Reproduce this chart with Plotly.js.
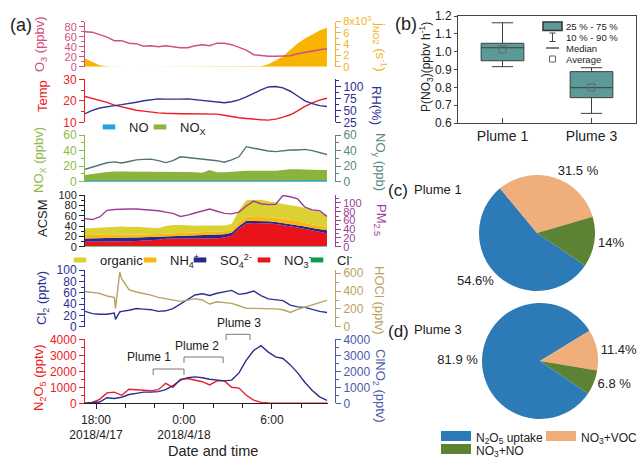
<!DOCTYPE html>
<html><head><meta charset="utf-8">
<script src="https://cdn.plot.ly/plotly-3.0.1.min.js"></script>
<style>html,body{margin:0;padding:0;background:#fff;}#chart{width:639px;height:458px;}</style>
</head><body><div id="chart"></div>
<script>
// ---------------- data ----------------
const hours = [17.25,17.75,18.25,18.75,19.25,19.75,20.25,20.75,21.25,21.75,22.25,22.75,23.25,23.75,24.25,24.75,25.25,25.75,26.25,26.75,27.25,27.75,28.25,28.75,29.25,29.75,30.25,30.75,31.25,31.75,32.25,32.75,33.25,33.75];
const hoursNOx = [17.25,17.75,18.25,18.75,19.25,19.5,19.75,20.25,20.75,21.25,21.75,22.25,22.75,23.25,23.75,24.25,24.75,25.25,25.75,26.25,26.75,27.25,27.75,28.25,28.75,29.25,29.75,30.25,30.75,31.25,31.75,32.25,32.75,33.25,33.75];
const hoursCl = [17.25,17.75,18.25,18.75,19.25,19.33,19.62,19.75,20.25,20.75,21.25,21.75,22.25,22.75,23.25,23.75,24.25,24.75,25.25,25.75,26.25,26.75,27.25,27.75,28.25,28.75,29.25,29.75,30.25,30.75,31.25,31.75,32.25,32.75,33.25,33.75];

const o3   = [70,69,64,59,52,52,47,46,41,42,40,42,40,38,38,42,44,42,47,47,44,38,33,24,22,21,21,21,22,26,29,32,34,36];
const jno2 = [1.45,0.8,0.27,0.05,0,0,0,0,0,0,0,0,0,0,0,0,0,0,0,0,0,0,0,0,0.09,0.45,1.1,1.8,3.0,4.1,5.0,5.7,6.4,6.9];
const temp = [22,21.2,20.3,19.3,18,17.2,16.3,15.6,15.2,14.7,14.4,14.2,14,14,14,14,14,13.9,13.8,13.3,12.6,12.1,11.8,11.4,11.2,11,11.5,12.4,13.5,15.3,17.4,19,20.3,21.2];
const rh   = [43,50,55,58,60,62,64,67,70,72,74,73.5,73,73.5,74,72.5,71,69,67,66,68,72,78,86,93,99,100,97,90,80,70,64,60,58];

const noConc  = [1.5,1.5,1.5,1.5,1.5,null,1.5,1.5,1.5,1.5,1.5,1.5,1.5,1.5,1.5,1.5,1.5,1.5,1.5,1.5,1.5,1.5,1.5,1.5,1.5,1.5,1.5,1.5,1.8,1.8,1.8,1.8,1.8,1.8,1.8];
const noxConc = [8.5,10,11.5,12.5,13,null,13,13,13,12.5,13,13,12.5,12.5,13,12.5,12,11.5,15,12,12,13,13.5,14,14,13.5,13.5,14,15,16,16,15.5,15.5,15,15];
const noy     = [16,18.5,21,24.4,25.5,24,26,28,28.7,29,27,24.5,27,32,31,30,29,28.5,27,25,28,32,45,43,41,39.5,38.6,40,40.7,40.7,41.5,40,37.5,35];

const speciesNames  = ['Cl<sup>-</sup>','NO<sub>3</sub><sup>-</sup>','SO<sub>4</sub><sup>2-</sup>','NH<sub>4</sub><sup>+</sup>','organic'];
const chloride = [1.2,1.2,1.2,1.2,1.2,1.2,1.2,1.2,1.2,1.2,1.2,1.2,1.2,1.2,1.2,1.2,1.2,1.2,1.2,1.2,1.2,1.2,1.2,1.2,1.2,1.2,1.2,1.2,1.2,1.2,1.2,1.2,1.2,1.2];
const nitrate  = [8.3,8.3,8.3,8.3,8.8,8.8,9.3,9.8,10.3,10.8,12.3,14.3,14.8,14.8,14.8,14.8,14.8,14.8,15.3,16.8,19.8,33.8,43.8,44.8,44.8,43.8,42.8,40.8,38.8,35.8,32.8,29.8,26.8,24.8];
const sulfate  = [6.5,7,7.5,7.5,7.5,8,7.5,7,7,7,6.5,5,5,5,5.5,6,6,6.5,6.5,6,6,5,5,4,4,4,4,4,4,5,5,5,6,6];
const ammonium = [6.5,6,6,6,5.5,5,5,5,5,5,5,5.5,5,5.5,5.5,5.5,6,6,6,6,6,8,8,8,8,8,8,8,8,8,7,7,6,6];
const organic  = [12.5,13.5,14,15,15.5,16,15,15.5,14,13,10.5,14,16,15.5,14,13,13,12.5,12.5,11,11,22,32,33,33,31,29,29,28,28,29,28,27,24];
const pm25     = [64,62,68,83,85,86,86,86,85,84,82,79,76,69,72,77,82,86,81,76,75,79,93,104,98,96,97,117,114,109,90,84,82,69];

const cl2  = [27,23,22,22,24,13,26,27,29,32,31,30,27,28,32,40,48,56,58,55,59,62,64,57,59,63,55,49,47,46,38,35,34,30,27,25];
const hocl = [395,385,375,345,330,205,615,540,415,390,375,355,330,315,300,285,298,315,300,255,280,270,262,235,206,206,205,205,200,190,160,195,220,240,262,295];

const n2o5  = [0,50,250,650,700,500,880,850,800,780,850,1250,1000,1500,1550,1450,1350,1150,1400,1400,1000,950,500,200,60,20,10,0,0,0,0,0,0,0];
const clno2 = [0,20,80,350,300,380,550,620,700,700,730,850,1100,1450,1600,1650,1600,1500,1450,1400,1450,1900,2700,3300,3600,3200,2900,2800,2400,1900,1300,800,400,180];

const plumeNames = ['Plume 1','Plume 2','Plume 3'];
const plumeStart = [21.9, 24.0, 26.87];
const plumeEnd   = [24.0, 26.67, 28.5];

const tickHours  = [18, 24, 30];
const tickLabels = ['18:00<br>2018/4/17','0:00<br>2018/4/18','6:00'];

const boxCats   = ['Plume 1','Plume 3'];
const boxLow    = [0.916, 0.654];
const boxQ1     = [0.949, 0.742];
const boxMedian = [1.022, 0.798];
const boxQ3     = [1.047, 0.888];
const boxHigh   = [1.162, 0.910];
const boxMean   = [1.013, 0.800];

const pathways    = ['N<sub>2</sub>O<sub>5</sub> uptake','NO<sub>3</sub>+VOC','NO<sub>3</sub>+NO'];
const plume1Share = [54.6, 31.5, 14];
const plume3Share = [81.9, 11.4, 6.8];
const plume1Text  = ['54.6%','31.5 %','14%'];
const plume3Text  = ['81.9 %','11.4%','6.8 %'];

// ---------------- helpers ----------------
const W = 639, H = 458;
const FONT = '"Liberation Sans", Arial, Helvetica, sans-serif';
const fx = x => x / W;
const fy = y => 1 - y / H;
function toTime(h) {
  const d = new Date(Date.UTC(2018, 3, 17, 0, 0, 0) + Math.round(h * 3600000));
  return d.toISOString().slice(0, 19).replace('T', ' ');
}
const X = hours.map(toTime), XN = hoursNOx.map(toTime), XC = hoursCl.map(toTime);

const C = {
  o3:'#cf4f80', j:'#f7b500', jAx:'#f4b223', temp:'#ee1c24', rh:'#2e3192', nox:'#8db33f', noxAx:'#8cbb45',
  no:'#1ea7e1', noy:'#4f7573', noyAx:'#5a8784', pm:'#9b3e98', cl2:'#2e3192', hocl:'#b9a262',
  n2o5:'#ee1c24', clno2:'#2b2e8c', clno2Ax:'#4a5ba8'
};
const speciesColors = ['#0c9a4e','#e8131b','#26288f','#f9b712','#dcd134'];
const pieColors = ['#2c7ab6','#f0ae7b','#5c8234'];
const RIGHT = fx(335);

// ---------------- traces ----------------
const line = (x, y, yaxis, color, w) => ({type:'scatter', mode:'lines', x, y, xaxis:'x', yaxis, line:{color, width:w||1.4}, showlegend:false, hoverinfo:'skip'});
const area = (x, y, yaxis, color) => ({type:'scatter', mode:'lines', x, y, xaxis:'x', yaxis, fill:'tozeroy', fillcolor:color, line:{color, width:0}, showlegend:false, hoverinfo:'skip'});

const traces = [];
traces.push(area(X, jno2, 'y', C.j));
traces.push(line(X, o3, 'y7', C.o3));
traces.push(line(X, temp, 'y2', C.temp));
traces.push(line(X, rh, 'y8', C.rh));
traces.push(area(XN, noxConc, 'y3', C.nox));
traces.push(area(XN, noConc, 'y3', C.no));
traces.push(line(X, noy, 'y9', C.noy));
[chloride, nitrate, sulfate, ammonium, organic].forEach((arr, k) => {
  traces.push({type:'scatter', mode:'lines', x:X, y:arr, xaxis:'x', yaxis:'y4', stackgroup:'acsm',
    fillcolor:speciesColors[k], line:{color:speciesColors[k], width:0}, name:speciesNames[k], showlegend:false, hoverinfo:'skip'});
});
traces.push(line(X, pm25, 'y10', C.pm));
traces.push(line(XC, hocl, 'y11', C.hocl));
traces.push(line(XC, cl2, 'y5', C.cl2));
traces.push(line(X, n2o5, 'y6', C.n2o5));
traces.push(line(X, clno2, 'y12', C.clno2));

// box plot
traces.push({type:'box', orientation:'v', x:boxCats, q1:boxQ1, median:boxMedian, q3:boxQ3, lowerfence:boxLow, upperfence:boxHigh,
  xaxis:'x2', yaxis:'y13', fillcolor:'#5c9a97', line:{color:'#3f3f3f', width:1}, width:0.48, whiskerwidth:0.5,
  boxpoints:false, showlegend:false, hoverinfo:'skip'});
traces.push({type:'scatter', mode:'markers', x:boxCats, y:boxMean, xaxis:'x2', yaxis:'y13',
  marker:{symbol:'square-open', size:7, color:'#666', line:{width:1}}, showlegend:false, hoverinfo:'skip'});

// pies
const pieBase = {type:'pie', labels:pathways, sort:false, direction:'clockwise', rotation:124, textinfo:'text',
  textposition:'outside', marker:{colors:pieColors, line:{width:0}}, textfont:{size:13, color:'#222', family:FONT},
  showlegend:false, hoverinfo:'skip'};
traces.push(Object.assign({}, pieBase, {values:plume1Share, text:plume1Text, domain:{x:[fx(479), fx(595)], y:[fy(291), fy(175)]}}));
traces.push(Object.assign({}, pieBase, {values:plume3Share, text:plume3Text, domain:{x:[fx(482), fx(598)], y:[fy(419), fy(303)]}}));

// legend entries (one legend per entry so each sits where the original puts it)
const legendSpec = [];
function legendMarker(name, color, cx, cy) {
  const id = 'legend' + (legendSpec.length === 0 ? '' : (legendSpec.length + 1));
  legendSpec.push({id, cx, cy, size:13});
  traces.push({type:'scatter', mode:'markers', x:[null], y:[null], xaxis:'x', yaxis:'y4', name,
    marker:{symbol:'line-ew', size:9, color, line:{color, width:5}}, legend:id, showlegend:true, hoverinfo:'skip'});
}
function legendBand(name, color, cx, cy) {
  const id = 'legend' + (legendSpec.length === 0 ? '' : (legendSpec.length + 1));
  legendSpec.push({id, cx, cy, size:12});
  traces.push({type:'scatter', mode:'lines', x:[null], y:[null], xaxis:'x2', yaxis:'y13', name,
    fill:'toself', fillcolor:color, line:{color, width:8}, legend:id, showlegend:true, hoverinfo:'skip'});
}
legendBand(pathways[0], pieColors[0], 456, 437);
legendBand(pathways[1], pieColors[1], 561, 437);
legendBand(pathways[2], pieColors[2], 456, 450);
legendMarker('NO', C.no, 109, 127);
legendMarker('NO<sub>X</sub>', C.nox, 160, 127);
legendMarker(speciesNames[4], speciesColors[4], 80, 260);
legendMarker(speciesNames[3], speciesColors[3], 150, 260);
legendMarker(speciesNames[2], speciesColors[2], 200, 260);
legendMarker(speciesNames[1], speciesColors[1], 264, 260);
legendMarker(speciesNames[0], speciesColors[0], 317, 260);

// ---------------- axes ----------------
function yAx(opts) {
  const color = opts.color;
  const a = {
    range: opts.range, showline:true, linecolor:color, linewidth:1, ticks:'outside', ticklen:5, tickwidth:1, tickcolor:color,
    tickfont:{size:opts.fs || 12, color, family:FONT}, showgrid:false, zeroline:false, fixedrange:true,
    minor:{ticks:'outside', ticklen:3, tickcolor:color, tickmode:'linear', tick0:opts.tick0 || 0, dtick:opts.minor}
  };
  if (opts.tickvals) { a.tickmode = 'array'; a.tickvals = opts.tickvals; a.ticktext = opts.ticktext; }
  else { a.tickmode = 'linear'; a.tick0 = opts.tick0 || 0; a.dtick = opts.dtick; }
  if (opts.right) { a.side = 'right'; a.anchor = 'free'; a.position = RIGHT; }
  else { a.side = 'left'; a.anchor = 'x'; }
  if (opts.overlaying) a.overlaying = opts.overlaying;
  if (opts.domain) a.domain = opts.domain;
  return a;
}
const dom = (top, bot) => [fy(bot), fy(top)];

const layout = {
  width: W, height: H, margin:{l:0, r:0, t:0, b:0, autoexpand:false}, paper_bgcolor:'#fff', plot_bgcolor:'rgba(0,0,0,0)',
  font:{family:FONT, size:12, color:'#222'}, showlegend:true, hovermode:false,
  xaxis: {type:'date', domain:[fx(85), fx(328)], range:[toTime(17.25), toTime(33.82)], anchor:'y6',
    showline:true, linecolor:'#222', linewidth:1, ticks:'outside', ticklen:5, tickcolor:'#222',
    tickmode:'array', tickvals:tickHours.map(toTime), ticktext:tickLabels, tickfont:{size:12, color:'#222', family:FONT},
    minor:{ticks:'outside', ticklen:4, tickcolor:'#222', tickmode:'linear', tick0:toTime(18), dtick:7200000},
    showgrid:false, zeroline:false, fixedrange:true},
  yaxis:   yAx({domain:dom(21.5, 66.7), range:[0, 8], color:C.jAx, tickvals:[0,2,4,6,8], ticktext:['0','2','4','6','8x10<sup>3</sup>'], minor:1, right:true, fs:11}),
  yaxis7:  yAx({range:[0, 90.4], color:C.o3, dtick:20, minor:10, overlaying:'y', fs:11}),
  yaxis2:  yAx({domain:dom(79.3, 122.3), range:[10, 30], color:C.temp, dtick:10, minor:5}),
  yaxis8:  yAx({range:[25, 115], color:C.rh, tick0:25, dtick:25, minor:12.5, right:true, overlaying:'y2'}),
  yaxis3:  yAx({domain:dom(135, 181.7), range:[0, 60], color:C.noxAx, dtick:20, minor:10}),
  yaxis9:  yAx({range:[0, 60], color:C.noyAx, dtick:20, minor:10, right:true, overlaying:'y3'}),
  yaxis4:  yAx({domain:dom(195, 246.7), range:[0, 100], color:'#222', dtick:20, minor:10, fs:11}),
  yaxis10: yAx({range:[0, 118], color:C.pm, dtick:20, minor:10, right:true, overlaying:'y4', fs:11}),
  yaxis5:  yAx({domain:dom(270, 326.7), range:[0, 100], color:C.cl2, dtick:20, minor:10}),
  yaxis11: yAx({range:[0, 637], color:C.hocl, dtick:200, minor:100, right:true, overlaying:'y5'}),
  yaxis6:  yAx({domain:dom(339.3, 403.3), range:[0, 4000], color:C.n2o5, dtick:1000, minor:500}),
  yaxis12: yAx({range:[0, 4000], color:C.clno2Ax, dtick:1000, minor:500, right:true, overlaying:'y6'}),
  xaxis2: {domain:[fx(458), fx(636)], anchor:'y13', type:'category', range:[-0.5, 1.5], showline:true, mirror:true,
    linecolor:'#444', linewidth:1, ticks:'inside', ticklen:5, tickcolor:'#444', tickfont:{size:14, color:'#222', family:FONT},
    showgrid:false, zeroline:false, fixedrange:true},
  yaxis13: {domain:[fy(123), fy(16)], anchor:'x2', range:[0.6, 1.2], tickmode:'linear', tick0:0.6, dtick:0.1, tickformat:'.1f',
    showline:true, mirror:true, linecolor:'#444', linewidth:1, ticks:'outside', ticklen:3, tickcolor:'#444',
    tickfont:{size:12, color:'#222', family:FONT}, showgrid:false, zeroline:false, fixedrange:true}
};

legendSpec.forEach(s => {
  layout[s.id] = {x:fx(s.cx - 20), y:fy(s.cy), xanchor:'left', yanchor:'middle', orientation:'h',
    bgcolor:'rgba(0,0,0,0)', borderwidth:0, itemwidth:30, font:{size:s.size, color:'#222', family:FONT}};
});

// ---------------- annotations & shapes ----------------
const ann = [];
function txt(text, x, y, o) {
  ann.push(Object.assign({text, x:fx(x), y:fy(y), xref:'paper', yref:'paper', showarrow:false,
    xanchor:'center', yanchor:'middle', font:{size:13, color:'#222', family:FONT}}, o || {}));
}
const tf = (c, s) => ({size:s || 13, color:c, family:FONT});
// left axis titles
txt('O<sub>3</sub> (ppbv)', 40, 44, {textangle:-90, font:tf(C.o3)});
txt('Temp', 42, 96, {textangle:-90, font:tf(C.temp)});
txt('NO<sub>X</sub> (ppbv)', 40, 160, {textangle:-90, font:tf(C.noxAx)});
txt('ACSM', 42, 218, {textangle:-90, font:tf('#222')});
txt('Cl<sub>2</sub> (pptv)', 42, 298, {textangle:-90, font:tf(C.cl2)});
txt('N<sub>2</sub>O<sub>5</sub> (pptv)', 39, 378, {textangle:-90, font:tf(C.n2o5)});
// right axis titles
txt('j<sub>NO2</sub> (s<sup>-1</sup>)', 380, 46, {textangle:90, font:tf(C.jAx)});
txt('RH(%)', 377, 105, {textangle:90, font:tf(C.rh)});
txt('NO<sub>y</sub> (ppb)', 380, 162, {textangle:90, font:tf(C.noyAx)});
txt('PM<sub>2.5</sub>', 381, 220, {textangle:90, font:tf(C.pm)});
txt('HOCl (pptv)', 380, 300, {textangle:90, font:tf(C.hocl)});
txt('ClNO<sub>2</sub> (pptv)', 380, 386, {textangle:90, font:tf(C.clno2Ax)});
// x title
txt('Date and time', 213, 451, {font:tf('#222', 14.5)});
// panel labels
txt('(a)', 21, 25, {font:tf('#222', 18)});
txt('(b)', 406, 24, {font:tf('#222', 18)});
txt('(c)', 398, 191, {font:tf('#222', 17)});
txt('Plume 1', 412, 190, {xanchor:'left', font:tf('#222', 13)});
txt('(d)', 398, 331, {font:tf('#222', 17)});
txt('Plume 3', 412, 329, {xanchor:'left', font:tf('#222', 13)});
// box plot y title
txt('P(NO<sub>3</sub>)(ppbv h<sup>-1</sup>)', 426, 67, {textangle:-90, font:tf('#222', 12)});
// box legend texts
txt('25 % - 75 %', 564, 26.5, {xanchor:'left', font:tf('#222', 9.5)});
txt('10 % - 90 %', 564, 37.5, {xanchor:'left', font:tf('#222', 9.5)});
txt('Median', 564, 48.5, {xanchor:'left', font:tf('#222', 9.5)});
txt('Average', 564, 59.5, {xanchor:'left', font:tf('#222', 9.5)});

// plume brackets and labels (x in data time, y in paper)
const plumeTop = [369, 357, 334.3], plumeLeg = [375, 363, 340], plumeLabelY = [357, 346, 323], plumeLabelHour = [21.61, 24.89, 27.75];
const shapes = [];
plumeNames.forEach((nm, i) => {
  const x0 = toTime(plumeStart[i]), x1 = toTime(plumeEnd[i]);
  const st = {xref:'x', yref:'paper', type:'line', line:{color:'#777', width:1}};
  shapes.push(Object.assign({x0, x1:x0, y0:fy(plumeLeg[i]), y1:fy(plumeTop[i])}, st));
  shapes.push(Object.assign({x0, x1, y0:fy(plumeTop[i]), y1:fy(plumeTop[i])}, st));
  shapes.push(Object.assign({x0:x1, x1, y0:fy(plumeLeg[i]), y1:fy(plumeTop[i])}, st));
  ann.push({text:nm, x:toTime(plumeLabelHour[i]), y:fy(plumeLabelY[i]), xref:'x', yref:'paper', showarrow:false,
    xanchor:'center', yanchor:'middle', font:{size:12, color:'#222', family:FONT}});
});
// box legend symbols
const P = (o) => Object.assign({xref:'paper', yref:'paper'}, o);
shapes.push(P({type:'rect', x0:fx(543), x1:fx(562), y0:fy(30.5), y1:fy(22), fillcolor:'#5c9a97', line:{color:'#333', width:1.5}}));
shapes.push(P({type:'line', x0:fx(552.5), x1:fx(552.5), y0:fy(41.5), y1:fy(33), line:{color:'#444', width:1}}));
shapes.push(P({type:'line', x0:fx(549.5), x1:fx(555.5), y0:fy(33), y1:fy(33), line:{color:'#444', width:1}}));
shapes.push(P({type:'line', x0:fx(549.5), x1:fx(555.5), y0:fy(41.5), y1:fy(41.5), line:{color:'#444', width:1}}));
shapes.push(P({type:'line', x0:fx(546), x1:fx(559), y0:fy(48), y1:fy(48), line:{color:'#555', width:1.5}}));
shapes.push(P({type:'rect', x0:fx(549.5), x1:fx(555.5), y0:fy(62), y1:fy(56), line:{color:'#666', width:1}}));

layout.annotations = ann;
layout.shapes = shapes;

Plotly.newPlot('chart', traces, layout, {displayModeBar:false, staticPlot:true});
</script></body></html>
